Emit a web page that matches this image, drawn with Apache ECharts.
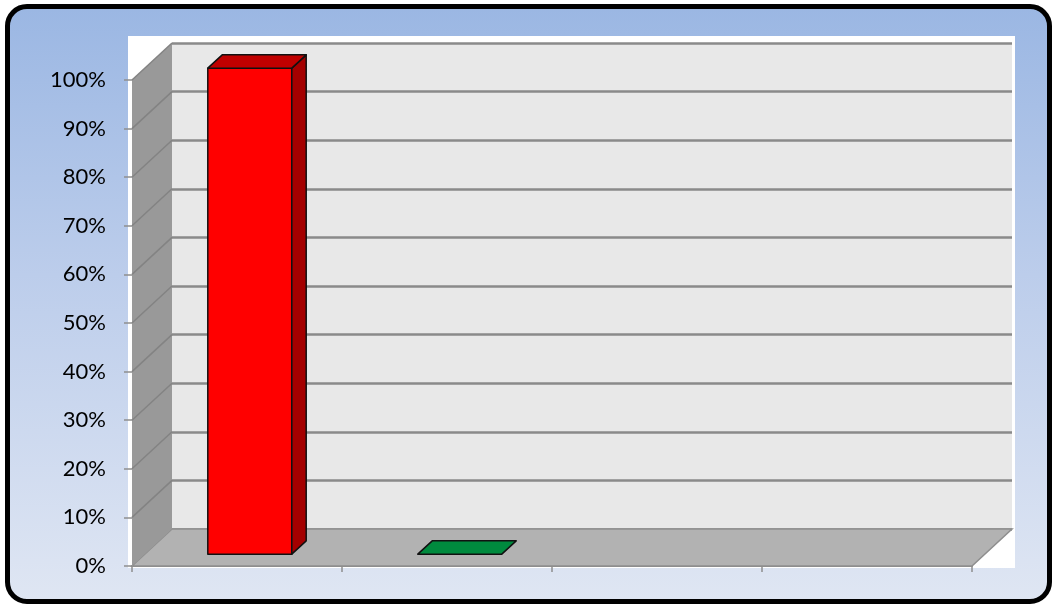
<!DOCTYPE html>
<html>
<head>
<meta charset="utf-8">
<script src="https://cdn.jsdelivr.net/npm/echarts@6/dist/echarts.min.js"></script>
<style>
  html, body { margin: 0; padding: 0; background: #fff; }
  #frame {
    position: absolute; left: 5px; top: 4px; width: 1047px; height: 600px;
    box-sizing: border-box; border: 5px solid #000; border-radius: 22px;
    background: linear-gradient(to bottom, #9bb7e3 0%, #bccdeb 45%, #dfe6f3 100%);
  }
  #chart { position: absolute; left: 0; top: 0; width: 1054px; height: 605px; }
</style>
</head>
<body>
<div id="frame"></div>
<div id="chart"></div>
<script>
// categories (no labels shown on the axis)
const categories = ['1', '2', '3', '4']
// share per category, null = no bar
const values = [1.0, 0, null, null]
// y axis range
const yMin = 0
const yMax = 1
const yStep = 0.1

// bar faces: front, top, side
const barColors = [
  ['#ff0000', '#c00000', '#a40000'],
  ['#008a3e', '#008a3e', '#006a30'],
  ['#ff0000', '#c00000', '#a40000'],
  ['#008a3e', '#008a3e', '#006a30']
]

// 3D depth offset of the back wall
const DEPTH = [40, -37]
const front = { left: 132, top: 80, width: 840, height: 486 }

const chart = echarts.init(document.getElementById('chart'))

function renderWalls(params, api) {
  const band = api.size([1, 0])[0]
  const x0 = api.coord([0, yMin])[0] - band / 2
  const x1 = api.coord([categories.length - 1, yMin])[0] + band / 2
  const y0 = api.coord([0, yMin])[1]
  const yTop = api.coord([0, yMax])[1]
  const [dx, dy] = DEPTH
  const children = [
    {
      type: 'polygon',
      shape: { points: [[x0, y0], [x1, y0], [x1 + dx, y0 + dy], [x0 + dx, y0 + dy]] },
      style: { fill: '#b2b2b2', stroke: '#8e8e8e', lineWidth: 1.5 }
    },
    {
      type: 'polygon',
      shape: { points: [[x0, y0], [x0, yTop], [x0 + dx, yTop + dy], [x0 + dx, y0 + dy]] },
      style: { fill: '#999999' }
    }
  ]
  for (let v = yMin + yStep; v <= yMax + 1e-9; v += yStep) {
    const y = api.coord([0, v])[1]
    children.push({
      type: 'line',
      shape: { x1: x0, y1: y, x2: x0 + dx, y2: y + dy },
      style: { stroke: '#838383', lineWidth: 1.5 }
    })
  }
  // ticks below the front floor edge, at the category boundaries
  for (let i = 0; i <= categories.length; i++) {
    const x = x0 + band * i
    children.push({
      type: 'line',
      shape: { x1: x, y1: y0, x2: x, y2: y0 + 6 },
      style: { stroke: '#8e8e8e', lineWidth: 1.5 }
    })
  }
  return { type: 'group', children }
}

function renderBar(params, api) {
  const i = api.value(0)
  const v = api.value(1)
  const band = api.size([1, 0])[0]
  const w = band * 0.4
  const c = api.coord([i, v])
  const yb = api.coord([i, yMin])[1]
  const yt = c[1]
  const fx = DEPTH[0] * 0.32, fy = DEPTH[1] * 0.32
  const bx = DEPTH[0] * 0.68, by = DEPTH[1] * 0.68
  const l = c[0] - w / 2, r = c[0] + w / 2
  const col = barColors[i]
  const st = { stroke: '#111', lineWidth: 1.5, lineJoin: 'round' }
  const children = []
  if (v > 0) {
    children.push({
      type: 'polygon',
      shape: { points: [[l + fx, yb + fy], [r + fx, yb + fy], [r + fx, yt + fy], [l + fx, yt + fy]] },
      style: Object.assign({ fill: col[0] }, st)
    })
    children.push({
      type: 'polygon',
      shape: { points: [[r + fx, yb + fy], [r + bx, yb + by], [r + bx, yt + by], [r + fx, yt + fy]] },
      style: Object.assign({ fill: col[2] }, st)
    })
  }
  children.push({
    type: 'polygon',
    shape: { points: [[l + fx, yt + fy], [r + fx, yt + fy], [r + bx, yt + by], [l + bx, yt + by]] },
    style: Object.assign({ fill: col[1] }, st)
  })
  return { type: 'group', children }
}

const barData = []
values.forEach((v, i) => { if (v !== null) barData.push([i, v]) })

const option = {
  animation: false,
  graphic: [{
    type: 'rect',
    z: -10,
    shape: { x: 128, y: 36, width: 887, height: 532 },
    style: { fill: '#fff' }
  }],
  grid: [
    Object.assign({ containLabel: false }, front),
    {
      left: front.left + DEPTH[0], top: front.top + DEPTH[1],
      width: front.width, height: front.height,
      show: true, backgroundColor: '#e8e8e8', borderWidth: 0
    }
  ],
  xAxis: [
    {
      gridIndex: 0, type: 'category', data: categories,
      axisLine: { lineStyle: { color: '#8e8e8e', width: 2 } },
      axisTick: { show: false },
      axisLabel: { show: false }
    },
    { gridIndex: 1, type: 'category', data: categories, show: false }
  ],
  yAxis: [
    {
      gridIndex: 0, type: 'value', min: yMin, max: yMax, interval: yStep,
      axisLine: { show: false },
      axisTick: { show: true, length: 8, lineStyle: { color: '#8e8e8e', width: 1.5 } },
      splitLine: { show: false },
      axisLabel: {
        margin: 26, color: '#000', fontFamily: 'Lato', fontSize: 22,
        formatter: v => Math.round(v * 100) + '%'
      }
    },
    {
      gridIndex: 1, type: 'value', min: yMin, max: yMax, interval: yStep,
      axisLine: { show: false }, axisTick: { show: false }, axisLabel: { show: false },
      splitLine: { show: true, lineStyle: { color: '#8a8a8a', width: 2.5 } }
    }
  ],
  series: [
    {
      name: 'walls', type: 'custom', xAxisIndex: 0, yAxisIndex: 0, z: 1,
      data: [[0, yMin]], renderItem: renderWalls, silent: true
    },
    {
      name: 'bars', type: 'custom', xAxisIndex: 0, yAxisIndex: 0, z: 3,
      data: barData, renderItem: renderBar
    }
  ]
}

chart.setOption(option)
</script>
</body>
</html>
